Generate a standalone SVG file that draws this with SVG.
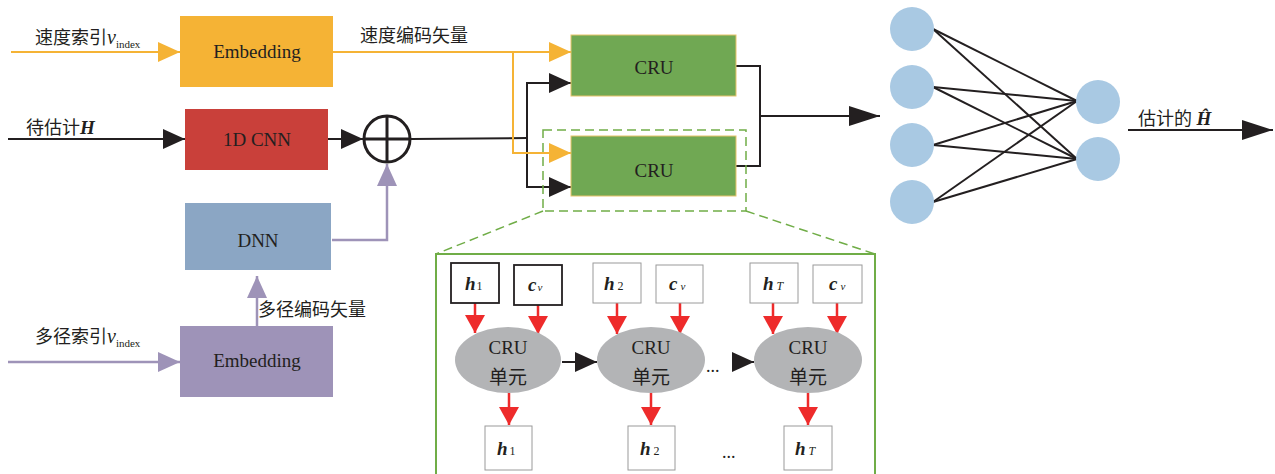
<svg xmlns="http://www.w3.org/2000/svg" width="1275" height="474" viewBox="0 0 1275 474">
<defs>
<marker id="aK" viewBox="0 0 22 20" refX="22" refY="10" markerWidth="22" markerHeight="20" markerUnits="userSpaceOnUse" orient="auto"><path d="M0,0 L22,10 L0,20 Z" fill="#231F20"/></marker>
<marker id="aKL" viewBox="0 0 31 20" refX="31" refY="10" markerWidth="31" markerHeight="20" markerUnits="userSpaceOnUse" orient="auto"><path d="M0,0 L31,10 L0,20 Z" fill="#231F20"/></marker>
<marker id="aO" viewBox="0 0 22 20" refX="22" refY="10" markerWidth="22" markerHeight="20" markerUnits="userSpaceOnUse" orient="auto"><path d="M0,0 L22,10 L0,20 Z" fill="#F5B335"/></marker>
<marker id="aP" viewBox="0 0 22 20" refX="22" refY="10" markerWidth="22" markerHeight="20" markerUnits="userSpaceOnUse" orient="auto"><path d="M0,0 L22,10 L0,20 Z" fill="#9E93B8"/></marker>
<marker id="aR" viewBox="0 0 18 20" refX="18" refY="10" markerWidth="18" markerHeight="20" markerUnits="userSpaceOnUse" orient="auto"><path d="M0,0 L18,10 L0,20 Z" fill="#EE2B2B"/></marker>
</defs>
<style>
text{font-family:"Liberation Serif","Noto Sans CJK SC",serif;fill:#231F20;font-size:18px}
.c{text-anchor:middle}
.n{font-size:19px}
.k{stroke:#231F20;stroke-width:2;fill:none}
.o{stroke:#F5B335;stroke-width:2;fill:none}
.p{stroke:#9E93B8;stroke-width:2.5;fill:none}
.r{stroke:#EE2B2B;stroke-width:2.5;fill:none}
.sub{font-size:11px}
.bi{font-weight:bold;font-style:italic}
.it{font-style:italic}
.box{fill:#fff;stroke:#9A9A9A;stroke-width:1}
.boxd{fill:#fff;stroke:#231F20;stroke-width:1.8}
.ell{fill:#B3B4B6}
.nn{fill:#A9C9E3}
.g{stroke:#70AD47;fill:none}
</style>
<g id="connectors">
<line class="o" x1="11" y1="52" x2="180" y2="52" marker-end="url(#aO)"/>
<line class="k" x1="8" y1="139" x2="185" y2="139" marker-end="url(#aK)"/>
<line class="k" x1="328" y1="139" x2="363" y2="139" marker-end="url(#aK)"/>
<line class="p" x1="8" y1="362" x2="180" y2="362" marker-end="url(#aP)"/>
<line class="p" x1="257" y1="326" x2="257" y2="276" marker-end="url(#aP)"/>
<polyline class="p" points="332,240 387,240 387,164" marker-end="url(#aP)"/>
<line class="k" x1="411" y1="139" x2="527" y2="138"/>
<polyline class="k" points="571,83 527,83 527,187 571,187" marker-end="url(#aK)"/>
<line class="k" x1="527" y1="83" x2="571" y2="83" marker-end="url(#aK)"/>
<line class="o" x1="333" y1="52" x2="571" y2="52" marker-end="url(#aO)"/>
<polyline class="o" points="513,52 513,153 571,153" marker-end="url(#aO)"/>
<polyline class="k" points="736,66 760,66 760,166 736,166"/>
<line class="k" x1="760" y1="116" x2="880" y2="116" marker-end="url(#aKL)"/>
<g class="k" stroke-width="2">
<line x1="933" y1="29" x2="1077" y2="101"/>
<line x1="933" y1="29" x2="1077" y2="159"/>
<line x1="933" y1="87" x2="1077" y2="101"/>
<line x1="933" y1="87" x2="1077" y2="159"/>
<line x1="933" y1="145" x2="1077" y2="101"/>
<line x1="933" y1="145" x2="1077" y2="159"/>
<line x1="933" y1="202" x2="1077" y2="101"/>
<line x1="933" y1="202" x2="1077" y2="159"/>
</g>
<line class="k" x1="1128" y1="130" x2="1273" y2="130" marker-end="url(#aKL)"/>
<g class="g" stroke-width="1.5" stroke-dasharray="9,5">
<rect x="543" y="130" width="203" height="81"/>
<line x1="543" y1="211" x2="436" y2="254"/>
<line x1="746" y1="211" x2="875" y2="254"/>
</g>
<g class="r">
<line x1="475" y1="303" x2="475" y2="333" marker-end="url(#aR)"/>
<line x1="538" y1="305" x2="538" y2="334" marker-end="url(#aR)"/>
<line x1="617" y1="303" x2="617" y2="334" marker-end="url(#aR)"/>
<line x1="680" y1="303" x2="680" y2="334" marker-end="url(#aR)"/>
<line x1="773" y1="303" x2="773" y2="334" marker-end="url(#aR)"/>
<line x1="837" y1="303" x2="837" y2="334" marker-end="url(#aR)"/>
<line x1="509" y1="393" x2="509" y2="425" marker-end="url(#aR)"/>
<line x1="651" y1="393" x2="651" y2="425" marker-end="url(#aR)"/>
<line x1="808" y1="393" x2="808" y2="425" marker-end="url(#aR)"/>
</g>
<line class="k" x1="562" y1="362" x2="597" y2="362" marker-end="url(#aK)"/>
<line class="k" x1="733" y1="362" x2="754" y2="362" marker-end="url(#aK)"/>
</g>
<g id="label-speed-index"><text x="35" y="44">速度索引<tspan class="it" font-size="20">v</tspan><tspan class="sub" dy="4">index</tspan></text></g>
<g id="label-H"><text x="26" y="134">待估计<tspan class="bi" font-size="19">H</tspan></text></g>
<g id="label-multi-index"><text x="35" y="343">多径索引<tspan class="it" font-size="20">v</tspan><tspan class="sub" dy="4">index</tspan></text></g>
<g id="label-speed-vec"><text x="360" y="42">速度编码矢量</text></g>
<g id="label-multi-vec"><text x="258" y="316">多径编码矢量</text></g>
<g id="emb-top"><rect x="180" y="16" width="153" height="71" fill="#F5B335"/><text class="c n" x="257" y="58">Embedding</text></g>
<g id="cnn"><rect x="185" y="109" width="143" height="61" fill="#C9403A"/><text class="c n" x="257" y="146">1D CNN</text></g>
<g id="plus"><circle cx="387" cy="139" r="23" fill="#fff" stroke="#231F20" stroke-width="3"/><line x1="364" y1="139" x2="410" y2="139" stroke="#231F20" stroke-width="3"/><line x1="387" y1="116" x2="387" y2="162" stroke="#231F20" stroke-width="3"/></g>
<g id="dnn"><rect x="185" y="203" width="146" height="67" fill="#8BA6C4"/><text class="c n" x="258" y="247">DNN</text></g>
<g id="emb-bottom"><rect x="180" y="326" width="153" height="71" fill="#9E93B8"/><text class="c n" x="257" y="367">Embedding</text></g>
<g id="cru-top"><rect x="571" y="35" width="165" height="61" fill="#70A853" stroke="#E8C36A" stroke-width="1"/><text class="c n" x="654" y="74">CRU</text></g>
<g id="cru-bottom"><rect x="571" y="136" width="165" height="60" fill="#70A853" stroke="#E8C36A" stroke-width="1"/><text class="c n" x="654" y="177">CRU</text></g>
<g id="nn">
<circle class="nn" cx="912" cy="29" r="22"/>
<circle class="nn" cx="912" cy="87" r="22"/>
<circle class="nn" cx="912" cy="145" r="22"/>
<circle class="nn" cx="912" cy="202" r="22"/>
<circle class="nn" cx="1098" cy="102" r="22"/>
<circle class="nn" cx="1098" cy="159" r="22"/>
</g>
<g id="label-out"><text x="1138" y="125">估计的 <tspan class="bi" font-size="19">Ĥ</tspan></text></g>
<g id="expanded">
<polyline class="g" stroke-width="2" points="436,474 436,254 875,254 875,474"/>
</g>
<g id="in-h1"><rect class="boxd" x="451" y="263" width="48" height="40"/><text x="465" y="290"><tspan class="bi" font-size="19">h</tspan><tspan font-size="12" dx="1">1</tspan></text></g>
<g id="in-c1"><rect class="boxd" x="514" y="265" width="48" height="40"/><text x="528" y="291"><tspan class="bi" font-size="19">c</tspan><tspan class="it" font-size="11" dx="1">v</tspan></text></g>
<g id="in-h2"><rect class="box" x="593" y="263" width="48" height="40"/><text x="604" y="290"><tspan class="bi" font-size="19">h</tspan><tspan font-size="12" dx="3">2</tspan></text></g>
<g id="in-c2"><rect class="box" x="656" y="265" width="47" height="38"/><text x="669" y="290"><tspan class="bi" font-size="19">c</tspan><tspan class="it" font-size="11" dx="3">v</tspan></text></g>
<g id="in-hT"><rect class="box" x="750" y="263" width="48" height="40"/><text x="763" y="290"><tspan class="bi" font-size="19">h</tspan><tspan class="it" font-size="12" dx="3">T</tspan></text></g>
<g id="in-c3"><rect class="box" x="813" y="265" width="49" height="38"/><text x="829" y="290"><tspan class="bi" font-size="19">c</tspan><tspan class="it" font-size="11" dx="3">v</tspan></text></g>
<g id="cell1"><ellipse class="ell" cx="508" cy="360" rx="53" ry="33"/><text class="c n" x="508" y="354">CRU</text><text class="c n" x="508" y="384">单元</text></g>
<g id="cell2"><ellipse class="ell" cx="651" cy="360" rx="54" ry="33"/><text class="c n" x="651" y="354">CRU</text><text class="c n" x="651" y="384">单元</text></g>
<g id="cell3"><ellipse class="ell" cx="808" cy="360" rx="54" ry="33"/><text class="c n" x="808" y="354">CRU</text><text class="c n" x="808" y="384">单元</text></g>
<text x="706" y="372" font-size="14">...</text>
<g id="out-h1"><rect class="box" x="485" y="426" width="47" height="44"/><text x="497" y="455"><tspan class="bi" font-size="19">h</tspan><tspan font-size="12" dx="2">1</tspan></text></g>
<g id="out-h2"><rect class="box" x="628" y="426" width="47" height="44"/><text x="640" y="455"><tspan class="bi" font-size="19">h</tspan><tspan font-size="12" dx="3">2</tspan></text></g>
<g id="out-hT"><rect class="box" x="784" y="426" width="48" height="44"/><text x="795" y="455"><tspan class="bi" font-size="19">h</tspan><tspan class="it" font-size="12" dx="3">T</tspan></text></g>
<text x="722" y="458" font-size="14">...</text>
</svg>
